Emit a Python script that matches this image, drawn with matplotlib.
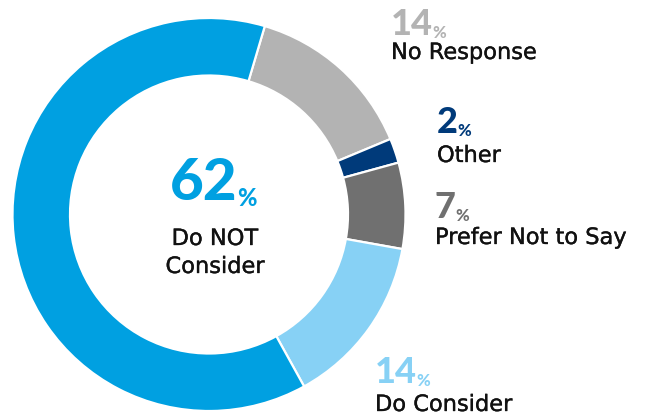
import matplotlib
matplotlib.use("Agg")
import matplotlib.pyplot as plt
import matplotlib.patheffects as pe

# Survey shares, clockwise from the top
categories = ["No Response", "Other", "Prefer Not to Say", "Do Consider", "Do NOT Consider"]
values = [14, 2, 7, 14, 62]
colors = ["#b3b3b3", "#003a7a", "#707070", "#87d1f5", "#00a0e1"]

W, H = 647, 418
fig = plt.figure(figsize=(W / 100, H / 100), dpi=100)
ax = fig.add_axes([0, 0, 1, 1])

cx, cy, r_out, r_in = 209, H - 214.5, 196.5, 139
ax.pie(values, colors=colors, startangle=73.5, counterclock=False,
       center=(cx, cy), radius=r_out, frame=True,
       wedgeprops=dict(width=r_out - r_in, edgecolor="white", linewidth=1.6))
ax.set_xlim(0, W)
ax.set_ylim(0, H)
ax.set_aspect("equal")
ax.axis("off")

NUM_FONT = ["Lato", "DejaVu Sans"]
LBL_FONT = ["DejaVu Sans"]
LBL_SIZE = 16.2
# slightly heavier than regular weight for the category names
LBL_FX = [pe.withStroke(linewidth=0.25, foreground="#111111")]


def value_label(x, y, val, color, size, pct_size, ha="left"):
    t = ax.text(x, H - y, f"{val}", color=color, fontsize=size,
                fontweight="black", family=NUM_FONT, ha=ha, va="baseline")
    ax.annotate("%", xy=(1, 0), xycoords=t, xytext=(-0.5, 0),
                textcoords="offset points", color=color, fontsize=pct_size,
                fontweight="black", family=NUM_FONT, ha="left", va="bottom")
    return t


def name_label(x, y, text, ha="left"):
    ax.text(x, H - y, text, fontsize=LBL_SIZE, family=LBL_FONT, ha=ha,
            va="baseline", color="#111111", path_effects=LBL_FX)


# center label
value_label(170, 200, values[4], colors[4], 42, 17)
name_label(215, 245, "Do NOT", ha="center")
name_label(215, 273, "Consider", ha="center")

# side labels: (index, x, number baseline, label baseline)
side = [
    (0, 391, 35, 59),
    (1, 437, 133, 162),
    (2, 435, 218, 244),
    (3, 375, 383, 411),
]
for i, x, yb_num, yb_lbl in side:
    value_label(x, yb_num, values[i], colors[i], 26, 12)
    name_label(x, yb_lbl, categories[i])

fig.savefig("out.png", dpi=100)
